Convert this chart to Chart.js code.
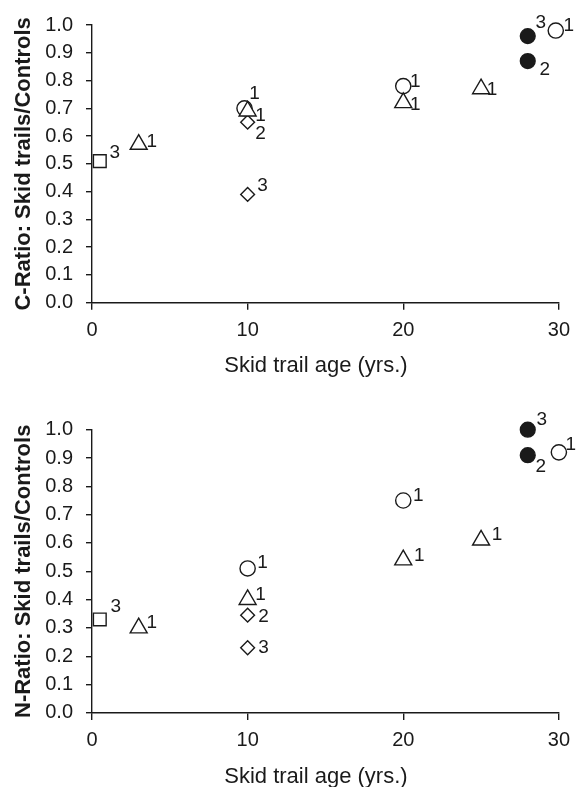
<!DOCTYPE html>
<html>
<head>
<meta charset="utf-8">
<title>Skid trail C and N ratios</title>
<script src="https://cdn.jsdelivr.net/npm/chart.js@4.4.1/dist/chart.umd.min.js"></script>
<style>
  html, body { margin: 0; padding: 0; background: #fff; }
  canvas { display: block; position: absolute; left: 0; }
  #cChart { top: 0; }
  #nChart { top: 400px; }
</style>
</head>
<body>
<canvas id="cChart" width="579" height="400"></canvas>
<canvas id="nChart" width="579" height="387"></canvas>
<script>
// ---- Tick values ----
const xTickValues = [0, 10, 20, 30];
const yTickValues = [0.0, 0.1, 0.2, 0.3, 0.4, 0.5, 0.6, 0.7, 0.8, 0.9, 1.0];

// ---- Carbon ratio (skid trail / control) vs. skid trail age ----
const cSquareAge = [0.5];
const cSquareRatio = [0.51];
const cSquareNote = ['3'];

const cTriangleAge = [3, 10, 20, 25];
const cTriangleRatio = [0.57, 0.69, 0.72, 0.77];
const cTriangleNote = ['1', '1', '1', '1'];

const cCircleAge = [9.8, 20, 29.8];
const cCircleRatio = [0.70, 0.78, 0.98];
const cCircleNote = ['1', '1', '1'];

const cDiamondAge = [10, 10];
const cDiamondRatio = [0.65, 0.39];
const cDiamondNote = ['2', '3'];

const cDotAge = [28, 28];
const cDotRatio = [0.96, 0.87];
const cDotNote = ['3', '2'];

// ---- Nitrogen ratio (skid trail / control) vs. skid trail age ----
const nSquareAge = [0.5];
const nSquareRatio = [0.33];
const nSquareNote = ['3'];

const nTriangleAge = [3, 10, 20, 25];
const nTriangleRatio = [0.30, 0.40, 0.54, 0.61];
const nTriangleNote = ['1', '1', '1', '1'];

const nCircleAge = [10, 20, 30];
const nCircleRatio = [0.51, 0.75, 0.92];
const nCircleNote = ['1', '1', '1'];

const nDiamondAge = [10, 10];
const nDiamondRatio = [0.345, 0.23];
const nDiamondNote = ['2', '3'];

const nDotAge = [28, 28];
const nDotRatio = [1.00, 0.91];
const nDotNote = ['3', '2'];

// ---- Look ----
const INK = '#1a1a1a';
const FONT = '"Liberation Sans", Arial, Helvetica, sans-serif';
const PLOT_H = 283.2;

const markerStyles = {
  square:   { pointStyle: 'rect',     radius: 9.0, fill: '#fff' },
  triangle: { pointStyle: 'triangle', radius: 9.8, fill: '#fff' },
  circle:   { pointStyle: 'circle',   radius: 7.6, fill: '#fff' },
  diamond:  { pointStyle: 'rectRot',  radius: 6.9, fill: '#fff' },
  dot:      { pointStyle: 'circle',   radius: 7.4, fill: INK }
};

// Where each small reference number sits relative to its marker (px)
const cNotePlaces = {
  square:   [[15, -8]],
  triangle: [[13, -3], [13, 5], [12, 2], [11, 1]],
  circle:   [[10, -15], [12, -4], [13, -5]],
  diamond:  [[13, 12], [15, -9]],
  dot:      [[13, -13], [17, 9]]
};
const nNotePlaces = {
  square:   [[16, -13]],
  triangle: [[13, -5], [13, -5], [16, -4], [16, -5]],
  circle:   [[15, -6], [15, -5], [12, -8]],
  diamond:  [[16, 2], [16, 0]],
  dot:      [[14, -10], [13, 12]]
};

function makeSeries(kind, ages, ratios, notes, places) {
  const st = markerStyles[kind];
  return {
    label: kind,
    data: ages.map((a, i) => ({ x: a, y: ratios[i] })),
    notes: notes,
    notePlaces: places[kind],
    pointStyle: st.pointStyle,
    pointRadius: st.radius,
    pointHoverRadius: st.radius,
    pointBackgroundColor: st.fill,
    pointBorderColor: INK,
    pointBorderWidth: 1.4,
    showLine: false,
    clip: false
  };
}

// Draws the small reference numbers beside every marker
const notesPlugin = {
  id: 'pointNotes',
  afterDatasetsDraw(chart) {
    const ctx = chart.ctx;
    ctx.save();
    ctx.font = '19px ' + FONT;
    ctx.fillStyle = INK;
    ctx.textAlign = 'center';
    ctx.textBaseline = 'middle';
    chart.data.datasets.forEach((ds, di) => {
      const meta = chart.getDatasetMeta(di);
      meta.data.forEach((pt, i) => {
        const off = ds.notePlaces[i];
        ctx.fillText(ds.notes[i], pt.x + off[0], pt.y + off[1]);
      });
    });
    ctx.restore();
  }
};

// Caption under the age axis
const ageCaptionPlugin = {
  id: 'ageCaption',
  afterDraw(chart) {
    const a = chart.chartArea;
    const ctx = chart.ctx;
    ctx.save();
    ctx.font = '22px ' + FONT;
    ctx.fillStyle = INK;
    ctx.textAlign = 'center';
    ctx.textBaseline = 'alphabetic';
    ctx.fillText('Skid trail age (yrs.)', (a.left + a.right) / 2 - 9.5, a.bottom + 69.6);
    ctx.restore();
  }
};

function buildChart(id, yTitle, datasets, areaTop) {
  const canvas = document.getElementById(id);
  const H = canvas.height;
  const areaBottom = areaTop + PLOT_H;
  return new Chart(canvas, {
    type: 'scatter',
    data: { datasets: datasets },
    plugins: [notesPlugin, ageCaptionPlugin],
    options: {
      responsive: false,
      animation: false,
      layout: { padding: { top: areaTop, right: 16, left: 0, bottom: 0 } },
      plugins: { legend: { display: false }, tooltip: { enabled: false } },
      scales: {
        x: {
          type: 'linear',
          min: 0, max: 30,
          afterBuildTicks: s => { s.ticks = xTickValues.map(v => ({ value: v })); },
          afterFit: s => { s.height = H - areaBottom; },
          grid: { drawOnChartArea: false, drawTicks: true, tickLength: 7, color: INK, lineWidth: 1.4 },
          border: { display: true, color: INK, width: 1.4 },
          ticks: { color: INK, font: { family: FONT, size: 20 }, padding: 9, maxRotation: 0 }
        },
        y: {
          type: 'linear',
          min: 0, max: 1,
          afterBuildTicks: s => { s.ticks = yTickValues.map(v => ({ value: v })); },
          afterFit: s => { s.width = 92; },
          grid: { drawOnChartArea: false, drawTicks: true, tickLength: 6, color: INK, lineWidth: 1.4 },
          border: { display: true, color: INK, width: 1.4 },
          ticks: { color: INK, font: { family: FONT, size: 20 }, padding: 13, callback: v => Number(v).toFixed(1) },
          title: {
            display: true,
            text: yTitle,
            color: INK,
            font: { family: FONT, size: 22, weight: 'bold' },
            padding: { top: 11, bottom: 0 }
          }
        }
      }
    }
  });
}

buildChart('cChart', 'C-Ratio: Skid trails/Controls', [
  makeSeries('square', cSquareAge, cSquareRatio, cSquareNote, cNotePlaces),
  makeSeries('triangle', cTriangleAge, cTriangleRatio, cTriangleNote, cNotePlaces),
  makeSeries('circle', cCircleAge, cCircleRatio, cCircleNote, cNotePlaces),
  makeSeries('diamond', cDiamondAge, cDiamondRatio, cDiamondNote, cNotePlaces),
  makeSeries('dot', cDotAge, cDotRatio, cDotNote, cNotePlaces)
], 19.5);

buildChart('nChart', 'N-Ratio: Skid trails/Controls', [
  makeSeries('square', nSquareAge, nSquareRatio, nSquareNote, nNotePlaces),
  makeSeries('triangle', nTriangleAge, nTriangleRatio, nTriangleNote, nNotePlaces),
  makeSeries('circle', nCircleAge, nCircleRatio, nCircleNote, nNotePlaces),
  makeSeries('diamond', nDiamondAge, nDiamondRatio, nDiamondNote, nNotePlaces),
  makeSeries('dot', nDotAge, nDotRatio, nDotNote, nNotePlaces)
], 29.7);
</script>
</body>
</html>
